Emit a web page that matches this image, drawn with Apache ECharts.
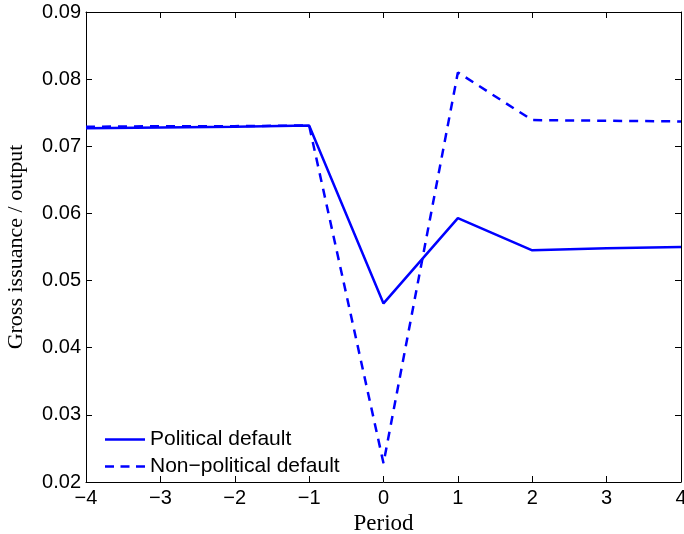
<!DOCTYPE html>
<html>
<head>
<meta charset="utf-8">
<script src="https://cdn.jsdelivr.net/npm/echarts@6/dist/echarts.min.js"></script>
<style>
  html, body { margin: 0; padding: 0; background: #fff; }
  #chart { width: 684px; height: 534px; }
</style>
</head>
<body>
<div id="chart"></div>
<script>
  var periods = [-4, -3, -2, -1, 0, 1, 2, 3, 4];
  var political = [0.0727, 0.0728, 0.0729, 0.0731, 0.0466, 0.0593, 0.0545, 0.0548, 0.0550];
  var nonPolitical = [0.0729, 0.0730, 0.0730, 0.0731, 0.0228, 0.0810, 0.0739, 0.0738, 0.0737];

  function pairs(vals) {
    var out = [];
    for (var i = 0; i < periods.length; i++) out.push([periods[i], vals[i]]);
    return out;
  }

  var myChart = echarts.init(document.getElementById("chart"));
  var tickFont = { color: "#000", fontFamily: "Liberation Sans", fontSize: 20 };
  var boxLine = { onZero: false, lineStyle: { color: "#000", width: 1 } };
  var tick = { inside: true, length: 6, lineStyle: { color: "#000" } };

  var option = {
    animation: false,
    grid: { left: 86, right: 3, top: 12, bottom: 52, containLabel: false, outerBoundsMode: "none" },
    legend: {
      left: 100,
      top: 424,
      orient: "vertical",
      itemWidth: 40,
      itemHeight: 14,
      itemGap: 6,
      textStyle: { color: "#000", fontFamily: "Liberation Sans", fontSize: 21 },
      data: [
        { name: "Political default", icon: "path://M0,5.75 L40,5.75 L40,8.25 L0,8.25 Z" },
        { name: "Non\u2212political default", icon: "path://M0,5.75 L9,5.75 L9,8.25 L0,8.25 Z M15.5,5.75 L24.5,5.75 L24.5,8.25 L15.5,8.25 Z M31,5.75 L40,5.75 L40,8.25 L31,8.25 Z" }
      ]
    },
    xAxis: [
      {
        type: "value", min: -4, max: 4, interval: 1,
        name: "Period", nameLocation: "middle", nameGap: 29,
        nameTextStyle: { color: "#000", fontFamily: "Liberation Serif", fontSize: 23 },
        axisLine: boxLine,
        axisTick: tick,
        axisLabel: Object.assign({ margin: 6, formatter: function (v) { return String(v).replace("-", "\u2212"); } }, tickFont),
        splitLine: { show: false }
      },
      {
        type: "value", min: -4, max: 4, interval: 1, position: "top",
        axisLine: boxLine,
        axisTick: tick,
        axisLabel: { show: false }, splitLine: { show: false }
      }
    ],
    yAxis: [
      {
        type: "value", min: 0.02, max: 0.09, interval: 0.01,
        name: "Gross issuance / output", nameLocation: "middle", nameGap: 59,
        nameTextStyle: { color: "#000", fontFamily: "Liberation Serif", fontSize: 22 },
        axisLine: boxLine,
        axisTick: tick,
        axisLabel: Object.assign({ margin: 5, formatter: function (v) { return v.toFixed(2); } }, tickFont),
        splitLine: { show: false }
      },
      {
        type: "value", min: 0.02, max: 0.09, interval: 0.01, position: "right",
        axisLine: boxLine,
        axisTick: tick,
        axisLabel: { show: false }, splitLine: { show: false }
      }
    ],
    series: [
      {
        name: "Political default", type: "line", data: pairs(political),
        showSymbol: false, symbol: "none",
        itemStyle: { color: "#0000ff" },
        lineStyle: { color: "#0000ff", width: 2.5, type: "solid" }
      },
      {
        name: "Non\u2212political default", type: "line", data: pairs(nonPolitical),
        showSymbol: false, symbol: "none",
        itemStyle: { color: "#0000ff" },
        lineStyle: { color: "#0000ff", width: 2.5, type: [9, 7] }
      }
    ]
  };

  myChart.setOption(option);
</script>
</body>
</html>
